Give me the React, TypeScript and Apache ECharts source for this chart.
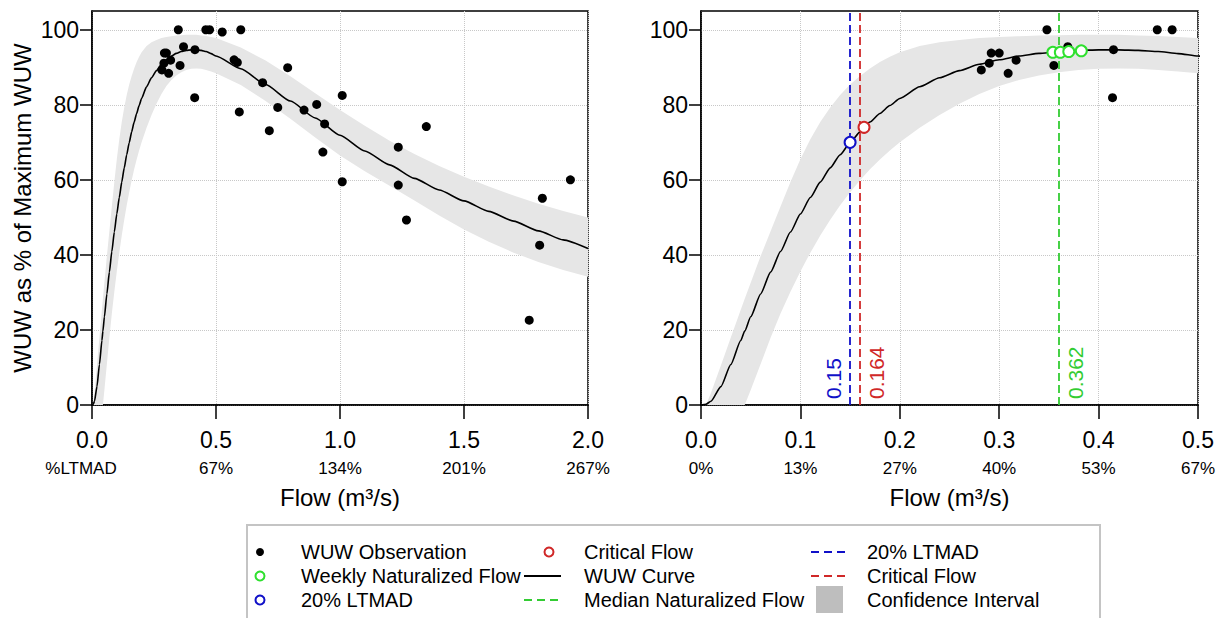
import React, { useEffect, useRef } from 'react';
import * as echarts from 'echarts';

// ---------- data ----------
const curveX = [0, 0.005, 0.01, 0.02, 0.03, 0.04, 0.044, 0.05, 0.06, 0.07, 0.08, 0.09, 0.1, 0.11, 0.12, 0.13, 0.14, 0.15, 0.16, 0.17, 0.18, 0.19, 0.2, 0.22, 0.24, 0.26, 0.28, 0.3, 0.32, 0.34, 0.36, 0.38, 0.4, 0.42, 0.44, 0.46, 0.48, 0.5, 0.6, 0.7, 0.8, 0.9, 1.0, 1.1, 1.2, 1.3, 1.4, 1.5, 1.6, 1.7, 1.8, 1.9, 2.0];
const curveY = [0, 0.2, 1.0, 4.9, 10.8, 17.2, 19.7, 23.5, 29.6, 35.4, 40.9, 46.1, 50.9, 55.3, 59.4, 63.2, 66.7, 69.9, 72.8, 75.4, 77.7, 79.8, 81.7, 84.8, 87.2, 89.1, 90.8, 92.0, 93.0, 93.7, 94.2, 94.5, 94.65, 94.65, 94.5, 94.2, 93.65, 93.0, 89.6, 85.4, 81.0, 76.5, 71.9, 67.7, 64.0, 60.4, 57.3, 54.4, 51.6, 49.0, 46.4, 44.0, 41.7];
const bandUpper = [0, 0, 3.2, 10.5, 18.0, 25.4, 28.3, 32.6, 39.7, 46.3, 52.9, 59.4, 65.5, 70.8, 75.4, 79.3, 82.6, 85.4, 87.7, 89.7, 91.4, 92.8, 94.0, 95.7, 96.7, 97.3, 97.8, 98.1, 98.3, 98.45, 98.55, 98.65, 98.7, 98.65, 98.5, 98.35, 98.1, 97.8, 95.3, 91.8, 87.6, 83.1, 78.6, 74.4, 70.4, 66.9, 63.7, 60.8, 58.2, 55.8, 53.6, 51.7, 50.0];
const bandLower = [0, 0, 0, 0, 0, 0, 0, 4.0, 10.9, 17.9, 24.4, 30.2, 35.6, 40.6, 45.2, 49.4, 53.2, 56.7, 59.9, 62.8, 65.4, 67.8, 70.0, 73.9, 77.3, 80.3, 82.9, 85.0, 86.6, 87.8, 88.7, 89.3, 89.6, 89.7, 89.6, 89.3, 88.9, 88.4, 85.3, 81.0, 76.3, 71.3, 66.5, 62.3, 58.4, 54.5, 50.5, 46.8, 43.5, 40.6, 38.1, 36.0, 34.2];

const obsX = [0.282, 0.290, 0.292, 0.300, 0.309, 0.317, 0.348, 0.355, 0.369, 0.414, 0.415, 0.459, 0.474, 0.525, 0.573, 0.586, 0.594, 0.600, 0.688, 0.715, 0.749, 0.789, 0.855, 0.906, 0.931, 0.938, 1.009, 1.009, 1.235, 1.235, 1.268, 1.348, 1.763, 1.805, 1.816, 1.929];
const obsY = [89.3, 91.1, 93.8, 93.8, 88.4, 91.9, 100, 90.5, 95.5, 81.9, 94.7, 100, 100, 99.4, 92.0, 91.3, 78.1, 100, 85.9, 73.1, 79.3, 89.9, 78.6, 80.1, 67.4, 74.9, 82.5, 59.5, 68.7, 58.6, 49.3, 74.2, 22.6, 42.6, 55.1, 60.0];

const weeklyX = [0.354, 0.3615, 0.370, 0.3826];
const weeklyY = [94.0, 94.0, 94.2, 94.4];
const ltmadFlow = 0.15;
const ltmadWUW = 70.0;
const criticalFlow = 0.164;
const criticalWUW = 74.0;
const medianFlow = 0.362;

const leftTicks = [0, 0.5, 1.0, 1.5, 2.0];
const leftPct = ['%LTMAD', '67%', '134%', '201%', '267%'];
const rightTicks = [0, 0.1, 0.2, 0.3, 0.4, 0.5];
const rightPct = ['0%', '13%', '27%', '40%', '53%', '67%'];
const yTicks = [0, 20, 40, 60, 80, 100];

// ---------- styles ----------
const FONT = '"Liberation Sans", Arial, sans-serif';
const BLUE = '#1010c8';
const RED = '#d02828';
const GREEN = '#33cc33';
const GREEN_PT = '#2ee02e';
const BAND = '#e6e6e6';

const zip = (xs: number[], ys: number[]) => xs.map((x, i) => [x, ys[i]]);

function bandSeries(idx: number) {
  return {
    type: 'custom',
    xAxisIndex: idx,
    yAxisIndex: idx,
    clip: true,
    z: 1,
    silent: true,
    data: curveX.map((x, i) => [x, bandLower[i], bandUpper[i]]),
    encode: { x: 0, y: [1, 2] },
    renderItem: (params: any, api: any) => {
      if (params.dataIndex !== 0) return null;
      const pts: number[][] = [];
      for (let i = 0; i < curveX.length; i++) pts.push(api.coord([curveX[i], bandUpper[i]]));
      for (let i = curveX.length - 1; i >= 0; i--) pts.push(api.coord([curveX[i], bandLower[i]]));
      return { type: 'polygon', shape: { points: pts }, style: { fill: BAND } };
    },
  };
}

function curveSeries(idx: number) {
  return {
    type: 'line',
    xAxisIndex: idx,
    yAxisIndex: idx,
    data: zip(curveX, curveY),
    symbol: 'none',
    smooth: 0.2,
    smoothMonotone: 'x',
    clip: true,
    z: 3,
    silent: true,
    lineStyle: { color: '#000', width: 1.6 },
  };
}

function obsSeries(idx: number) {
  return {
    type: 'scatter',
    xAxisIndex: idx,
    yAxisIndex: idx,
    data: zip(obsX, obsY),
    symbol: 'circle',
    symbolSize: 9,
    clip: true,
    z: 4,
    silent: true,
    itemStyle: { color: '#000', opacity: 1 },
  };
}

function xAxis(idx: number, max: number, interval: number, ticks: number[], pct: string[]) {
  return {
    gridIndex: idx,
    type: 'value',
    min: 0,
    max,
    interval,
    name: 'Flow (m³/s)',
    nameLocation: 'middle',
    nameGap: 80,
    nameTextStyle: { fontSize: 24, color: '#000', fontFamily: FONT },
    axisLine: { show: true, onZero: false, lineStyle: { color: '#000', width: 1.5 } },
    axisTick: { show: true, length: 14, lineStyle: { color: '#000', width: 1.5 } },
    splitLine: { show: true, lineStyle: { type: 'dotted', color: '#c8c8c8', width: 1 } },
    axisLabel: {
      margin: 21,
      color: '#000',
      fontFamily: FONT,
      formatter: (v: number) => {
        const i = Math.round(v / interval);
        const style = pct[i].startsWith('%') ? 'c' : 'b';
        return `{a|${ticks[i].toFixed(1)}}\n{${style}|${pct[i]}}`;
      },
      rich: {
        a: { fontSize: 23, lineHeight: 28, fontFamily: FONT, color: '#000' },
        b: { fontSize: 17, lineHeight: 28, fontFamily: FONT, color: '#000' },
        c: { fontSize: 17, lineHeight: 28, fontFamily: FONT, color: '#000', padding: [0, 22, 0, 0] },
      },
    },
  };
}

function yAxis(idx: number, withName: boolean) {
  return {
    gridIndex: idx,
    type: 'value',
    min: 0,
    max: 105,
    interval: 20,
    name: withName ? 'WUW as % of Maximum WUW' : '',
    nameLocation: 'middle',
    nameGap: 58,
    nameTextStyle: { fontSize: 24, color: '#000', fontFamily: FONT },
    axisLine: { show: true, onZero: false, lineStyle: { color: '#000', width: 1.5 } },
    axisTick: { show: true, length: 12, customValues: yTicks, lineStyle: { color: '#000', width: 1.5 } },
    splitLine: { show: true, lineStyle: { type: 'dotted', color: '#c8c8c8', width: 1 } },
    axisLabel: { customValues: yTicks, fontSize: 23, color: '#000', fontFamily: FONT, margin: 13 },
  };
}

function vline(value: number, color: string, label: string, pos: string) {
  return {
    silent: true,
    symbol: ['none', 'none'],
    z: 5,
    lineStyle: { color, type: [8, 4], width: 1.8 },
    label: { show: true, formatter: label, position: pos, color, fontSize: 21, fontFamily: FONT, distance: 6 },
    data: [{ xAxis: value }],
  };
}

function openCircle(data: number[][], color: string, markLine: any) {
  return {
    type: 'scatter',
    xAxisIndex: 1,
    yAxisIndex: 1,
    data,
    symbol: 'circle',
    symbolSize: 11,
    z: 6,
    silent: true,
    itemStyle: { color: '#fff', borderColor: color, borderWidth: 2, opacity: 1 },
    markLine,
  };
}

// ---------- legend (graphic) ----------
const rowY = [552, 576, 600];
const legTxt = (x: number, y: number, text: string) => ({
  type: 'text', x, y,
  style: { text, fontSize: 20, fontFamily: FONT, fill: '#000', align: 'left', verticalAlign: 'middle' },
});
const legCircle = (cx: number, cy: number, color: string, filled: boolean) => ({
  type: 'circle',
  shape: { cx, cy, r: filled ? 4 : 4.5 },
  style: filled ? { fill: color } : { fill: '#fff', stroke: color, lineWidth: 2 },
});
const legLine = (y: number, x1: number, x2: number, color: string, dashed: boolean) => ({
  type: 'line',
  shape: { x1, y1: y, x2, y2: y },
  style: { stroke: color, lineWidth: 1.8, lineDash: dashed ? [8, 5] : null },
});

const legendGraphic = [
  { type: 'rect', shape: { x: 247, y: 525, width: 853, height: 110 }, style: { fill: 'none', stroke: '#c4c4c4', lineWidth: 2 } },
  legCircle(260, rowY[0], '#000', true),
  legTxt(301, rowY[0], 'WUW Observation'),
  legCircle(260, rowY[1], GREEN_PT, false),
  legTxt(301, rowY[1], 'Weekly Naturalized Flow'),
  legCircle(260, rowY[2], BLUE, false),
  legTxt(301, rowY[2], '20% LTMAD'),
  legCircle(549, rowY[0], RED, false),
  legTxt(584, rowY[0], 'Critical Flow'),
  legLine(rowY[1], 524, 561, '#000', false),
  legTxt(584, rowY[1], 'WUW Curve'),
  legLine(rowY[2], 524, 561, GREEN, true),
  legTxt(584, rowY[2], 'Median Naturalized Flow'),
  legLine(rowY[0], 811, 848, BLUE, true),
  legTxt(867, rowY[0], '20% LTMAD'),
  legLine(rowY[1], 811, 848, RED, true),
  legTxt(867, rowY[1], 'Critical Flow'),
  { type: 'rect', shape: { x: 816, y: 586, width: 27, height: 27 }, style: { fill: '#bebebe' } },
  legTxt(867, rowY[2], 'Confidence Interval'),
];

export default function App() {
  const ref = useRef<HTMLDivElement>(null);
  useEffect(() => {
    const chart = echarts.init(ref.current as HTMLDivElement, null, { renderer: 'svg' });
    const option: any = {
      animation: false,
      backgroundColor: '#fff',
      textStyle: { fontFamily: FONT },
      grid: [
        { left: 92, top: 11, width: 496, height: 394, show: true, borderColor: '#000', borderWidth: 1.5, backgroundColor: 'transparent' },
        { left: 701, top: 11, width: 497, height: 394, show: true, borderColor: '#000', borderWidth: 1.5, backgroundColor: 'transparent' },
      ],
      xAxis: [
        xAxis(0, 2, 0.5, leftTicks, leftPct),
        xAxis(1, 0.5, 0.1, rightTicks, rightPct),
      ],
      yAxis: [yAxis(0, true), yAxis(1, false)],
      series: [
        bandSeries(0),
        curveSeries(0),
        obsSeries(0),
        bandSeries(1),
        curveSeries(1),
        obsSeries(1),
        openCircle(zip(weeklyX, weeklyY), GREEN_PT, vline(medianFlow, GREEN, String(medianFlow), 'insideStartBottom')),
        openCircle([[ltmadFlow, ltmadWUW]], BLUE, vline(ltmadFlow, BLUE, String(ltmadFlow), 'insideStartTop')),
        openCircle([[criticalFlow, criticalWUW]], RED, vline(criticalFlow, RED, String(criticalFlow), 'insideStartBottom')),
      ],
      graphic: legendGraphic,
    };
    chart.setOption(option);
    return () => chart.dispose();
  }, []);
  return (
    <div
      ref={ref}
      style={{ position: 'absolute', left: 0, top: 0, width: 1228, height: 618, background: '#fff' }}
    />
  );
}
